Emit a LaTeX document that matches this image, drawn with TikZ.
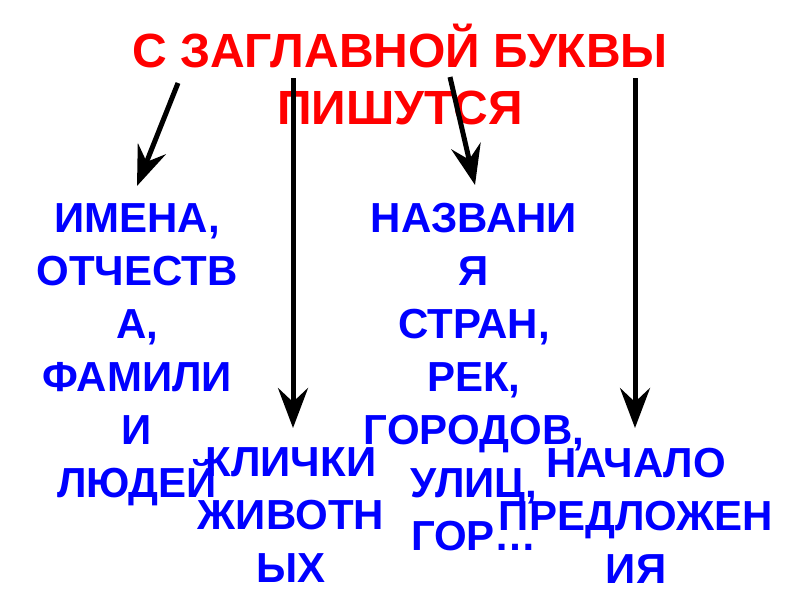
\documentclass[tikz,border=0pt]{standalone}
\usepackage{fontspec}
\setmainfont{Liberation Sans}
\usetikzlibrary{arrows.meta}
\definecolor{titlered}{RGB}{255,0,0}
\definecolor{itemblue}{RGB}{0,0,255}
\tikzset{
  titletext/.style={text=titlered, font=\fontsize{48}{57}\selectfont\bfseries, align=center, inner sep=0pt, anchor=base},
  itemtext/.style={text=itemblue, font=\fontsize{42}{53}\selectfont\bfseries, align=center, inner sep=0pt, anchor=base},
  pointer/.style={line width=5pt, -{Stealth[length=40pt, width=30pt, inset=14pt]}, black}
}
\begin{document}
\begin{tikzpicture}[x=1pt, y=-1pt]
\useasboundingbox (0,0) rectangle (800,600);
% anchor=base is the baseline of the last line
\node[titletext] (title) at (400,124) {С ЗАГЛАВНОЙ БУКВЫ\\ПИШУТСЯ};
\node[itemtext] (names) at (137,497) {ИМЕНА,\\ОТЧЕСТВ\\А,\\ФАМИЛИ\\И\\ЛЮДЕЙ};
\node[itemtext] (places) at (474,550) {НАЗВАНИ\\Я\\СТРАН,\\РЕК,\\ГОРОДОВ,\\УЛИЦ,\\ГОР…};
\node[itemtext] (pets) at (291,582) {КЛИЧКИ\\ЖИВОТН\\ЫХ};
\node[itemtext] (start) at (636,583) {НАЧАЛО\\ПРЕДЛОЖЕН\\ИЯ};
\coordinate (s1) at (178,83);
\coordinate (e1) at (137,186);
\coordinate (s2) at (293,78);
\coordinate (e2) at (293,428);
\coordinate (s3) at (450,77);
\coordinate (e3) at (475,185);
\coordinate (s4) at (635,78);
\coordinate (e4) at (635,428);
\draw[pointer] (s1) -- (e1);
\draw[pointer] (s2) -- (e2);
\draw[pointer] (s3) -- (e3);
\draw[pointer] (s4) -- (e4);
\end{tikzpicture}
\end{document}
